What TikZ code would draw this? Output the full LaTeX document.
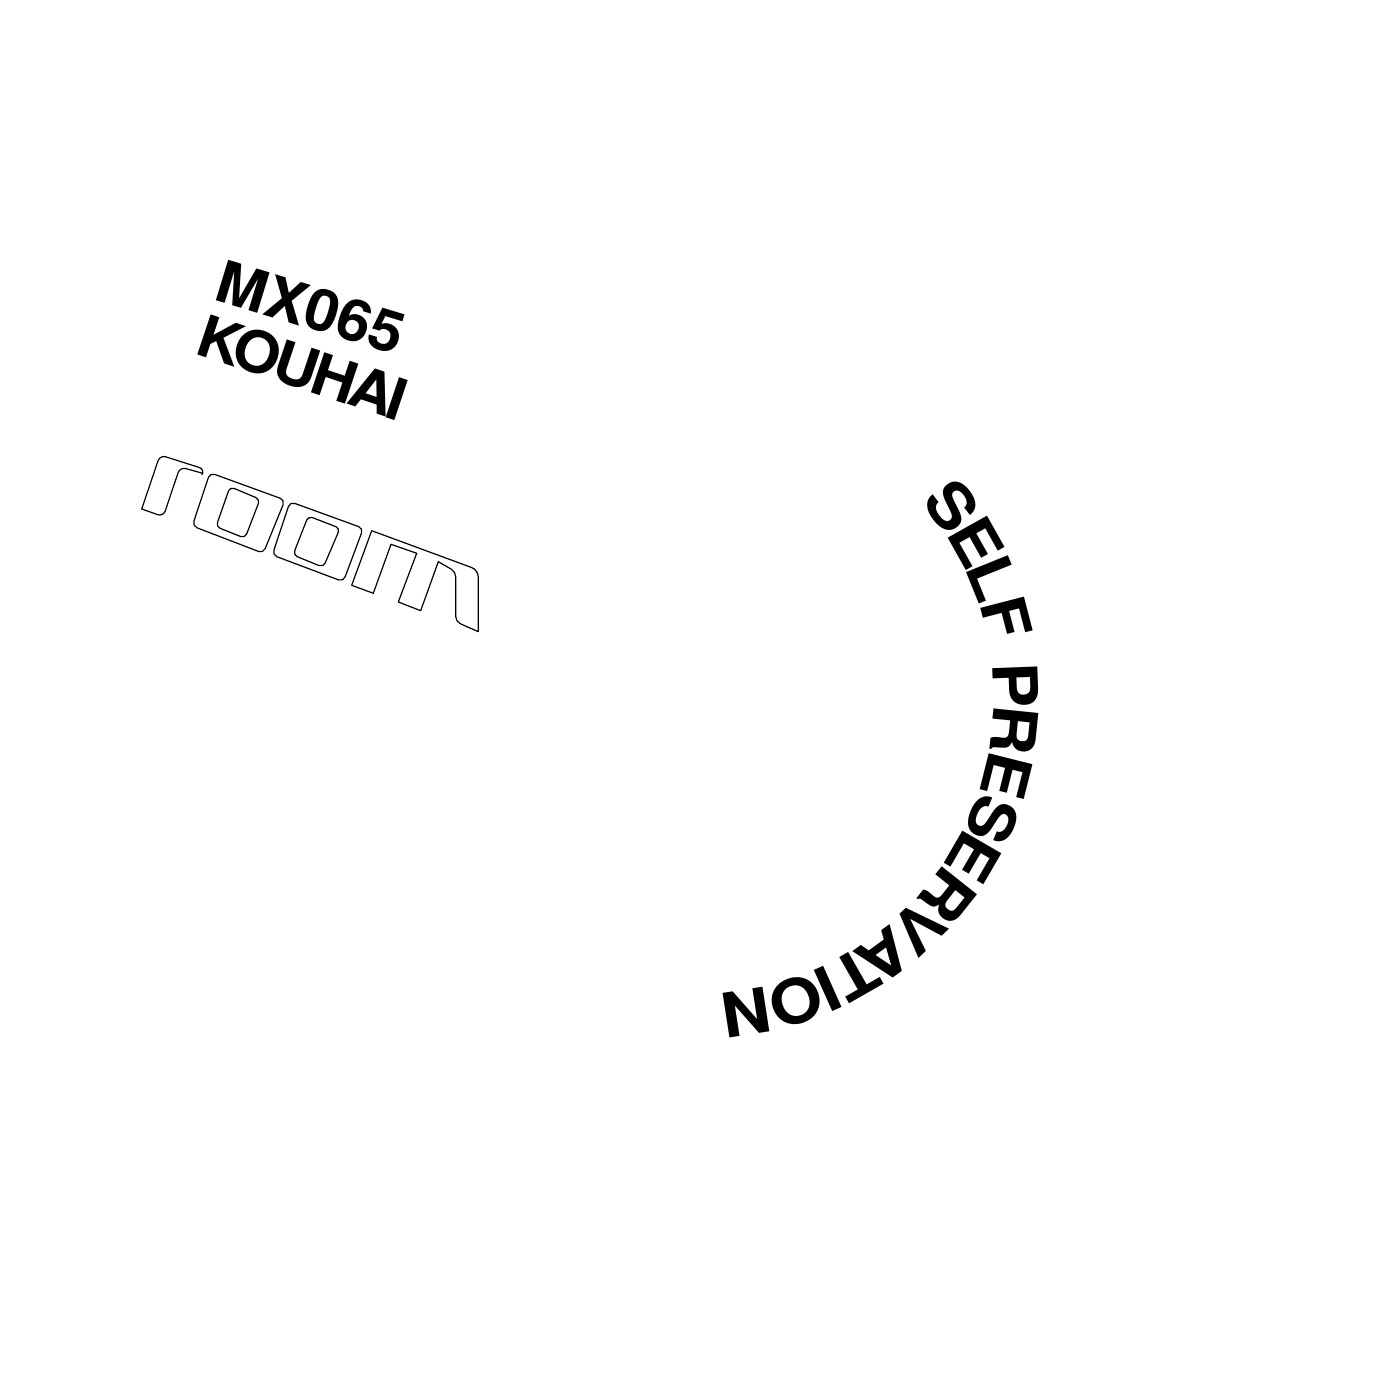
\documentclass[tikz,border=0pt]{standalone}
\usepackage{fontspec}
\setmainfont{TeX Gyre Heros}
\newfontfamily\titlefont{TeX Gyre Heros}[FakeStretch=1.1]
\newfontfamily\catfont{TeX Gyre Heros}[FakeStretch=1.05]
\tikzset{
  logoline/.style={draw=black,line width=0.012cm,line join=round},
  catalog/.style={font=\catfont\bfseries\fontsize{16.5pt}{16.5pt}\selectfont,anchor=base west,inner sep=0pt},
  titleletter/.style={font=\titlefont\bfseries\fontsize{17.6pt}{17.6pt}\selectfont,anchor=base,inner sep=0pt}
}
\begin{document}
\begin{tikzpicture}
    \useasboundingbox (0,0) rectangle (13.97,13.97);
    % catalogue text
    \node[catalog,rotate=-17] (number) at (2.12,10.98) {MX065};
    \node[catalog,rotate=-18.5] (artist) at (1.93,10.44) {\addfontfeature{LetterSpace=-7}KOUHAI};
    % logo, letter by letter
    \draw[logoline] (1.417,8.88) [rounded corners=0.06cm] -- (1.60,9.42) -- (2.05,9.277) [sharp corners] -- (2.027,9.237) [rounded corners=0.06cm] -- (1.80,9.30) -- (1.633,8.803) [sharp corners] -- cycle;
    \draw[logoline,rounded corners=0.05cm] (2.10,9.243) -- (2.85,8.97) -- (2.633,8.437) -- (1.923,8.71) -- cycle;
    \draw[logoline,rounded corners=0.045cm] (2.30,9.103) -- (2.60,8.977) -- (2.45,8.587) -- (2.16,8.703) -- cycle;
    \draw[logoline,rounded corners=0.05cm] (2.90,8.953) -- (3.633,8.687) -- (3.433,8.153) -- (2.723,8.42) -- cycle;
    \draw[logoline,rounded corners=0.045cm] (3.083,8.81) -- (3.40,8.687) -- (3.233,8.297) -- (2.93,8.42) -- cycle;
    \draw[logoline] (3.517,8.117) -- (3.717,8.663) [rounded corners=0.07cm] -- (4.783,8.27) [sharp corners] -- (4.783,7.653) [rounded corners=0.05cm] -- (4.557,7.753) -- (4.557,8.253) [sharp corners] -- (4.383,8.353) -- (4.207,7.863) -- (3.983,7.95) -- (4.167,8.437) -- (3.91,8.527) -- (3.733,8.037) -- cycle;
    % curved title
    \begin{scope}[shift={(6.98,6.99)}]
      \foreach \ch/\ang [count=\i] in {S/37,E/29.3,L/22,F/14.5,P/2.2,R/-5.8,E/-14.1,S/-22.5,E/-30.1,R/-38.4,V/-46.2,A/-54,T/-60.3,I/-65.9,O/-72,N/-81.2}
        \node[titleletter,rotate=\ang-90] (title\i) at (\ang:2.96) {\ch};
    \end{scope}
\end{tikzpicture}
\end{document}
